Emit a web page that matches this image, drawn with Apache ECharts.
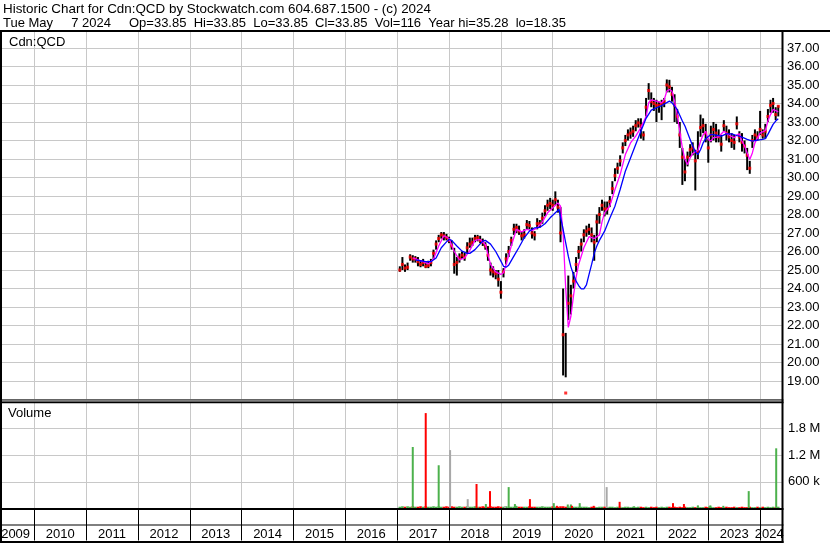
<!DOCTYPE html>
<html><head><meta charset="utf-8">
<script src="https://cdn.jsdelivr.net/npm/echarts/dist/echarts.min.js"></script>
<style>html,body{margin:0;padding:0;background:#fff}#c{width:830px;height:543px}</style>
</head><body><div id="c"></div><script>
// ---------- DATA ----------
const headerLine1 = 'Historic Chart for Cdn:QCD by Stockwatch.com 604.687.1500 - (c) 2024';
const headerLine2 = 'Tue May     7 2024     Op=33.85  Hi=33.85  Lo=33.85  Cl=33.85  Vol=116  Year hi=35.28  lo=18.35';
const symbolLabel = 'Cdn:QCD';
const volumeLabel = 'Volume';

const priceDates = [2017.05,2017.10,2017.15,2017.20,2017.25,2017.30,2017.35,2017.40,2017.45,2017.50,2017.55,2017.60,2017.65,2017.70,2017.75,2017.80,2017.85,2017.90,2017.95,
2018.00,2018.05,2018.10,2018.15,2018.20,2018.25,2018.30,2018.35,2018.40,2018.45,2018.50,2018.55,2018.60,2018.65,2018.70,2018.75,2018.80,2018.85,2018.90,2018.95,
2019.00,2019.05,2019.10,2019.15,2019.20,2019.25,2019.30,2019.35,2019.40,2019.45,2019.50,2019.55,2019.60,2019.65,2019.70,2019.75,2019.80,2019.85,2019.90,2019.95,
2020.00,2020.05,2020.10,2020.15,2020.20,2020.25,2020.30,2020.35,2020.40,2020.45,2020.50,2020.55,2020.60,2020.65,2020.70,2020.75,2020.80,2020.85,2020.90,2020.95,
2021.00,2021.05,2021.10,2021.15,2021.20,2021.25,2021.30,2021.35,2021.40,2021.45,2021.50,2021.55,2021.60,2021.65,2021.70,2021.75,2021.80,2021.85,2021.90,2021.95,
2022.00,2022.05,2022.10,2022.15,2022.20,2022.25,2022.30,2022.35,2022.40,2022.45,2022.50,2022.55,2022.60,2022.65,2022.70,2022.75,2022.80,2022.85,2022.90,2022.95,
2023.00,2023.05,2023.10,2023.15,2023.20,2023.25,2023.30,2023.35,2023.40,2023.45,2023.50,2023.55,2023.60,2023.65,2023.70,2023.75,2023.80,2023.85,2023.90,2023.95,
2024.00,2024.05,2024.10,2024.15,2024.20,2024.25,2024.30,2024.35];

const closes = [25.0,25.3,25.1,25.15,25.7,25.6,25.6,25.45,25.3,25.4,25.2,25.25,25.4,25.9,26.4,26.7,26.9,26.85,26.75,
26.6,26.3,25.3,25.4,25.65,25.8,25.7,26.2,26.4,26.5,26.7,26.75,26.6,26.5,26.3,25.8,25.0,24.9,24.8,24.5,
23.8,24.9,25.6,26.0,26.6,27.2,27.3,27.1,26.85,26.9,27.45,27.4,27.0,26.9,27.5,27.5,27.8,28.2,28.5,28.6,
28.5,28.8,28.4,27.0,21.5,18.35,23.2,23.6,24.4,25.3,26.0,26.4,26.9,27.1,27.2,26.9,26.5,27.6,28.0,28.5,
28.3,28.3,28.7,29.4,30.1,30.5,30.9,31.6,32.0,32.3,32.4,32.5,32.8,32.95,32.8,32.3,33.8,34.7,34.1,34.0,
33.9,33.9,34.0,34.1,35.0,34.9,34.5,33.9,33.3,32.3,31.1,30.3,31.1,31.5,31.6,30.9,31.4,32.7,32.8,32.4,
31.6,32.3,32.6,32.4,32.2,31.8,32.8,32.4,32.2,32.0,31.9,32.9,32.2,31.9,31.7,31.2,30.5,32.0,32.3,32.2,
32.6,32.3,32.5,33.3,33.9,34.0,33.4,33.85];

const highs = [25.2,25.7,25.3,25.4,25.85,25.8,25.75,25.7,25.5,25.6,25.45,25.5,25.6,26.1,26.6,26.9,27.05,27.05,26.95,
26.8,26.6,26.2,25.7,25.9,26.0,25.95,26.5,26.75,26.75,26.9,26.9,26.85,26.7,26.5,26.3,25.4,25.2,25.0,25.0,
24.4,25.1,25.9,26.3,26.8,27.5,27.5,27.4,27.1,27.2,27.7,27.65,27.3,27.1,27.8,27.7,28.1,28.5,28.8,28.9,
28.8,29.25,28.8,28.4,24.0,21.6,24.7,24.2,24.9,25.7,26.3,26.7,27.2,27.4,27.5,27.3,26.9,28.0,28.4,28.8,
28.7,28.7,29.0,29.8,30.5,30.8,31.2,31.9,32.3,32.6,32.7,32.8,33.1,33.2,33.2,32.5,34.3,35.1,34.6,34.3,
34.2,34.1,34.2,34.3,35.3,35.28,34.9,34.5,33.7,33.0,31.6,31.0,31.4,31.8,31.9,31.5,32.5,33.4,33.2,32.9,
32.1,32.8,33.0,32.9,32.6,32.3,33.1,32.8,32.6,32.4,32.3,33.3,32.5,32.4,32.0,31.6,30.9,32.3,32.6,32.5,
33.6,32.6,32.9,33.7,34.2,34.3,33.8,33.9];

const lows = [24.9,25.0,24.9,25.0,25.5,25.4,25.4,25.2,25.15,25.2,25.1,25.1,25.2,25.6,26.1,26.5,26.7,26.6,26.6,
26.45,26.1,24.8,24.7,25.4,25.6,25.5,25.9,26.2,26.3,26.5,26.55,26.45,26.3,26.1,25.5,24.7,24.6,24.5,24.1,
23.45,24.6,25.3,25.7,26.3,26.9,27.0,26.9,26.6,26.7,27.2,27.2,26.7,26.6,27.2,27.3,27.5,27.9,28.2,28.3,
28.2,28.5,28.1,26.5,19.3,19.2,22.3,22.6,24.0,24.9,25.6,26.0,26.5,26.8,26.9,26.5,25.5,26.5,27.5,28.2,
27.9,28.0,28.4,29.1,29.8,30.2,30.6,31.3,31.7,32.0,32.1,32.2,32.5,32.7,32.1,32.0,33.3,34.2,33.8,33.6,
33.0,33.5,33.1,33.8,34.6,34.6,34.1,33.0,32.9,31.6,29.6,29.8,30.6,31.1,31.2,29.3,31.0,32.2,32.4,31.9,
30.8,31.9,32.0,31.9,31.9,31.4,32.5,32.0,31.9,31.6,31.5,32.6,31.9,31.4,31.3,30.4,30.2,31.6,32.0,32.0,
32.3,32.1,32.1,33.0,33.5,33.5,33.1,33.3];

const maShortDates = [2017.30,2017.40,2017.50,2017.60,2017.70,2017.80,2017.90,2018.00,2018.10,2018.20,2018.30,2018.40,2018.50,2018.60,2018.70,2018.80,2018.90,2019.00,2019.05,2019.10,2019.20,2019.30,2019.40,2019.50,2019.60,2019.70,2019.80,2019.90,2020.00,2020.10,2020.15,2020.20,2020.25,2020.30,2020.35,2020.40,2020.45,2020.50,2020.60,2020.70,2020.80,2020.90,2020.95,2021.00,2021.10,2021.20,2021.30,2021.40,2021.50,2021.60,2021.70,2021.80,2021.85,2021.90,2022.00,2022.10,2022.15,2022.20,2022.25,2022.30,2022.35,2022.40,2022.45,2022.50,2022.55,2022.60,2022.65,2022.70,2022.75,2022.80,2022.85,2022.90,2022.95,2023.00,2023.05,2023.10,2023.20,2023.30,2023.40,2023.50,2023.55,2023.60,2023.65,2023.70,2023.75,2023.80,2023.85,2023.90,2024.00,2024.10,2024.15,2024.20,2024.25,2024.30,2024.35];
const maShort = [25.65,25.55,25.45,25.33,25.6,26.3,26.85,26.7,26.0,25.55,25.65,26.05,26.6,26.65,26.38,25.3,24.9,24.76,24.85,25.3,26.3,27.2,27.06,27.2,27.13,27.28,27.6,28.09,28.36,28.63,28.45,27.0,24.0,21.9,22.5,23.6,24.6,25.3,26.2,26.8,26.7,26.9,27.6,28.1,28.45,29.35,30.16,31.24,31.87,32.24,32.7,33.3,34.04,34.2,34.13,34.04,34.2,34.67,34.76,34.67,34.13,33.4,32.5,31.6,30.97,30.7,31.06,31.3,31.4,31.46,31.96,32.3,32.5,32.05,31.97,32.15,32.2,32.5,32.3,32.14,32.3,32.36,31.97,31.7,31.33,30.97,31.33,31.87,32.4,32.54,33.05,33.4,33.68,33.62,33.55];

const maLongDates = [2017.35,2017.45,2017.55,2017.65,2017.75,2017.85,2017.95,2018.00,2018.05,2018.15,2018.25,2018.35,2018.40,2018.50,2018.60,2018.65,2018.70,2018.80,2018.90,2019.00,2019.05,2019.10,2019.15,2019.25,2019.35,2019.45,2019.55,2019.65,2019.75,2019.85,2019.95,2020.05,2020.12,2020.20,2020.25,2020.30,2020.35,2020.40,2020.45,2020.50,2020.55,2020.60,2020.65,2020.70,2020.75,2020.80,2020.85,2020.90,2021.00,2021.10,2021.20,2021.30,2021.40,2021.50,2021.60,2021.70,2021.80,2021.90,2022.00,2022.10,2022.20,2022.25,2022.30,2022.35,2022.40,2022.45,2022.50,2022.55,2022.60,2022.65,2022.70,2022.75,2022.80,2022.85,2022.90,2022.95,2023.05,2023.15,2023.25,2023.35,2023.45,2023.55,2023.65,2023.75,2023.85,2023.95,2024.05,2024.10,2024.15,2024.20,2024.25,2024.30,2024.35];
const maLong = [25.55,25.5,25.45,25.45,25.65,26.2,26.52,26.65,26.6,26.3,26.02,25.9,25.9,26.1,26.41,26.56,26.6,26.4,26.0,25.48,25.2,25.15,25.26,25.75,26.23,26.74,27.1,27.28,27.3,27.5,27.82,28.09,28.27,27.2,26.47,25.75,25.17,24.76,24.4,24.16,23.98,23.98,24.2,24.76,25.3,25.9,26.3,26.6,27.1,27.8,28.45,29.35,30.34,31.06,31.78,32.5,33.2,33.64,33.77,33.89,34.05,34.13,34.04,33.86,33.68,33.37,33.05,32.78,32.42,32.06,31.7,31.4,31.24,31.5,31.87,32.1,32.33,32.29,32.24,32.36,32.36,32.27,32.18,32.06,31.97,32.02,32.06,32.1,32.33,32.6,32.87,33.05,33.17];

// daily-volume baseline (millions), aligned with priceDates
const volBase = [0.04,0.05,0.04,0.05,0.04,0.05,0.04,0.04,0.05,0.04,0.05,0.04,0.04,0.05,0.04,0.05,0.04,0.04,0.05,
0.04,0.05,0.04,0.04,0.05,0.04,0.04,0.05,0.04,0.04,0.05,0.04,0.04,0.05,0.04,0.04,0.05,0.04,0.04,0.05,
0.04,0.04,0.05,0.04,0.04,0.04,0.05,0.04,0.04,0.04,0.04,0.05,0.04,0.04,0.04,0.04,0.05,0.04,0.04,0.04,
0.05,0.04,0.04,0.05,0.05,0.04,0.04,0.05,0.04,0.04,0.04,0.04,0.04,0.04,0.03,0.04,0.04,0.03,0.04,0.04,
0.04,0.03,0.04,0.04,0.03,0.04,0.04,0.03,0.04,0.04,0.03,0.04,0.03,0.04,0.04,0.03,0.04,0.03,0.04,0.03,
0.04,0.03,0.04,0.03,0.04,0.04,0.03,0.04,0.03,0.04,0.03,0.04,0.03,0.03,0.04,0.03,0.04,0.03,0.03,0.04,
0.03,0.04,0.03,0.03,0.04,0.03,0.03,0.04,0.03,0.03,0.04,0.03,0.03,0.04,0.03,0.03,0.04,0.03,0.03,0.04,
0.03,0.04,0.03,0.04,0.03,0.04,0.03,0.04];

// notable volume days (millions); u = up, d = down, n = unchanged
const spikeDates = [2017.30,2017.55,2017.80,2018.02,2018.36,2018.53,2018.71,2018.79,2019.08,2019.15,2019.27,2019.29,2019.56,2020.02,2020.08,2020.29,2020.35,2020.37,2020.52,2020.79,2021.04,2021.29,2021.57,2022.32,2022.53,2022.80,2023.02,2023.04,2023.29,2023.78,2024.31];
const spikeVols = [1.38,2.14,0.97,1.31,0.21,0.55,0.10,0.39,0.05,0.48,0.10,0.06,0.21,0.12,0.06,0.09,0.09,0.06,0.12,0.06,0.48,0.15,0.05,0.12,0.10,0.07,0.05,0.07,0.06,0.39,1.35];
const spikeDirs = ['u','d','u','n','n','d','u','d','n','u','u','u','d','u','d','u','u','d','u','d','n','d','u','d','d','u','u','u','u','u','u'];

const priceTicks = [19,20,21,22,23,24,25,26,27,28,29,30,31,32,33,34,35,36,37];
const volTickLabels = {'0.6':'600 k','1.2':'1.2 M','1.8':'1.8 M'};
const yearLabels = [2009,2010,2011,2012,2013,2014,2015,2016,2017,2018,2019,2020,2021,2022,2023,2024];

// ---------- STYLE ----------
const FONT = '"Liberation Sans", Arial, Helvetica, sans-serif';
const GRID = '#c8c8c8';
const DIRCOL = {u:'#4cb14c', d:'#ff0000', n:'#a8a8a8'};
const gridLeft = -17.54, gridWidth = 799.44;

const chart = echarts.init(document.getElementById('c'), null, {renderer:'canvas'});

const hlData = priceDates.map((d,i)=>[d, lows[i], highs[i]]);
const closeData = priceDates.map((d,i)=>[d, closes[i]]);
const maS = maShortDates.map((d,i)=>[d, maShort[i]]);
const maL = maLongDates.map((d,i)=>[d, maLong[i]]);
const baseData = priceDates.map((d,i)=>({value:[d, volBase[i]], itemStyle:{color: (i>0 && closes[i] < closes[i-1]) ? DIRCOL.d : DIRCOL.u}}));
const spikeData = spikeDates.map((d,i)=>({value:[d, spikeVols[i]], itemStyle:{color: DIRCOL[spikeDirs[i]]}}));

function volRender(w){
  return function(params, api){
    const x = api.value(0), v = api.value(1);
    const a = api.coord([x, 0]), b = api.coord([x, v]);
    return {type:'rect', shape:{x:a[0]-w/2, y:b[1], width:w, height:a[1]-b[1]}, style:{fill: api.visual('color')}};
  };
}

// year label placed at the middle of its year; first/last are nudged to stay inside the frame
function yearFormatter(v){
  const y = Math.floor(v + 1e-6);
  const frac = v - y;
  const first = yearLabels[0], last = yearLabels[yearLabels.length-1];
  if (Math.abs(frac-0.5) < 1e-6 && yearLabels.indexOf(y) >= 0 && y !== last) {
    return y === first ? '    ' + y : String(y);
  }
  if (Math.abs(frac) < 1e-6 && y === last) return '     ' + y;
  return '';
}

const xAxisBase = {type:'value', min:2009, max:2024.42, interval:1, position:'bottom',
  axisLine:{show:false, onZero:false}, splitLine:{show:true, lineStyle:{color:GRID, width:1}}};

const option = {
  animation:false,
  backgroundColor:'#ffffff',
  grid:[
    {left:gridLeft, width:gridWidth, top:29.5, height:370, containLabel:false, outerBoundsMode:'none'},
    {left:gridLeft, width:gridWidth, top:401.5, height:107, containLabel:false, outerBoundsMode:'none'}
  ],
  xAxis:[
    Object.assign({}, xAxisBase, {gridIndex:0, axisTick:{show:false}, axisLabel:{show:false}}),
    Object.assign({}, xAxisBase, {gridIndex:1,
      axisTick:{show:true, length:32, inside:false, lineStyle:{color:'#000', width:1}},
      axisLabel:{show:false}}),
    {type:'value', gridIndex:1, min:2009, max:2024.42, interval:0.5, position:'bottom', offset:0,
      axisLine:{show:false, onZero:false}, axisTick:{show:false}, splitLine:{show:false},
      axisLabel:{show:true, margin:19, hideOverlap:false, showMinLabel:true, showMaxLabel:true,
        fontFamily:FONT, fontSize:13, color:'#000', formatter:yearFormatter}}
  ],
  yAxis:[
    {type:'value', gridIndex:0, position:'right', min:18, max:38, interval:1,
      axisLine:{show:false}, axisTick:{show:false},
      splitLine:{show:true, lineStyle:{color:GRID, width:1}},
      axisLabel:{margin:5, fontFamily:FONT, fontSize:13, color:'#000', showMinLabel:true, showMaxLabel:true, hideOverlap:false,
        formatter:function(v){ const r=Math.round(v); return priceTicks.indexOf(r)>=0 ? r.toFixed(2) : ''; }}},
    {type:'value', gridIndex:1, position:'right', min:0, max:2.4, interval:0.6,
      axisLine:{show:false}, axisTick:{show:false},
      splitLine:{show:true, lineStyle:{color:GRID, width:1}},
      axisLabel:{margin:6, fontFamily:FONT, fontSize:13, color:'#000', showMinLabel:true, showMaxLabel:true, hideOverlap:false,
        formatter:function(v){ const k=(Math.round(v*10)/10).toFixed(1); return volTickLabels[k] || ''; }}}
  ],
  series:[
    {type:'custom', name:'range', xAxisIndex:0, yAxisIndex:0, data:hlData, encode:{x:0, y:[1,2]}, z:2,
      renderItem:function(params, api){
        const x=api.value(0), lo=api.value(1), hi=api.value(2);
        const a=api.coord([x,lo]), b=api.coord([x,hi]);
        return {type:'rect', shape:{x:a[0]-1, y:b[1], width:2, height:Math.max(1,a[1]-b[1])}, style:{fill:'#000'}};
      }},
    {type:'scatter', name:'close', xAxisIndex:0, yAxisIndex:0, data:closeData, symbol:'rect', symbolSize:3,
      itemStyle:{color:'#ff0000'}, z:3},
    {type:'line', name:'maShort', xAxisIndex:0, yAxisIndex:0, data:maS, showSymbol:false, symbol:'none',
      lineStyle:{color:'#ff00ff', width:1.3}, z:4},
    {type:'line', name:'maLong', xAxisIndex:0, yAxisIndex:0, data:maL, showSymbol:false, symbol:'none',
      lineStyle:{color:'#0000ff', width:1.3}, z:5},
    {type:'custom', name:'volBase', xAxisIndex:1, yAxisIndex:1, data:baseData, encode:{x:0,y:1}, renderItem:volRender(2.6), z:2},
    {type:'custom', name:'volSpike', xAxisIndex:1, yAxisIndex:1, data:spikeData, encode:{x:0,y:1}, renderItem:volRender(2), z:3}
  ],
  graphic:[
    {type:'rect', z:100, shape:{x:0,y:0,width:830,height:30}, style:{fill:'#fff'}},
    {type:'text', z:101, x:3, y:9, style:{text:headerLine1, fontFamily:FONT, fontSize:13.4, fill:'#000', verticalAlign:'middle'}},
    {type:'text', z:101, x:3, y:23, style:{text:headerLine2, fontFamily:FONT, fontSize:13, fill:'#000', verticalAlign:'middle'}},
    {type:'text', z:101, x:9, y:42, style:{text:symbolLabel, fontFamily:FONT, fontSize:13, fill:'#000', verticalAlign:'middle'}},
    {type:'text', z:101, x:8, y:413.5, style:{text:volumeLabel, fontFamily:FONT, fontSize:13, fill:'#000', verticalAlign:'middle'}},
    {type:'rect', z:102, shape:{x:0,y:30,width:830,height:2}, style:{fill:'#000'}},
    {type:'rect', z:102, shape:{x:0,y:30,width:2,height:513}, style:{fill:'#000'}},
    {type:'rect', z:102, shape:{x:781.5,y:30,width:2,height:513}, style:{fill:'#000'}},
    {type:'rect', z:102, shape:{x:0,y:399.5,width:783.5,height:1}, style:{fill:'#000'}},
    {type:'rect', z:102, shape:{x:0,y:401.5,width:783.5,height:1.8}, style:{fill:'#000'}},
    {type:'rect', z:102, shape:{x:0,y:508,width:783.5,height:2}, style:{fill:'#000'}},
    {type:'rect', z:102, shape:{x:0,y:524.5,width:783.5,height:1}, style:{fill:'#000'}},
    {type:'rect', z:102, shape:{x:0,y:541,width:783.5,height:2}, style:{fill:'#000'}}
  ]
};
chart.setOption(option);
</script></body></html>
